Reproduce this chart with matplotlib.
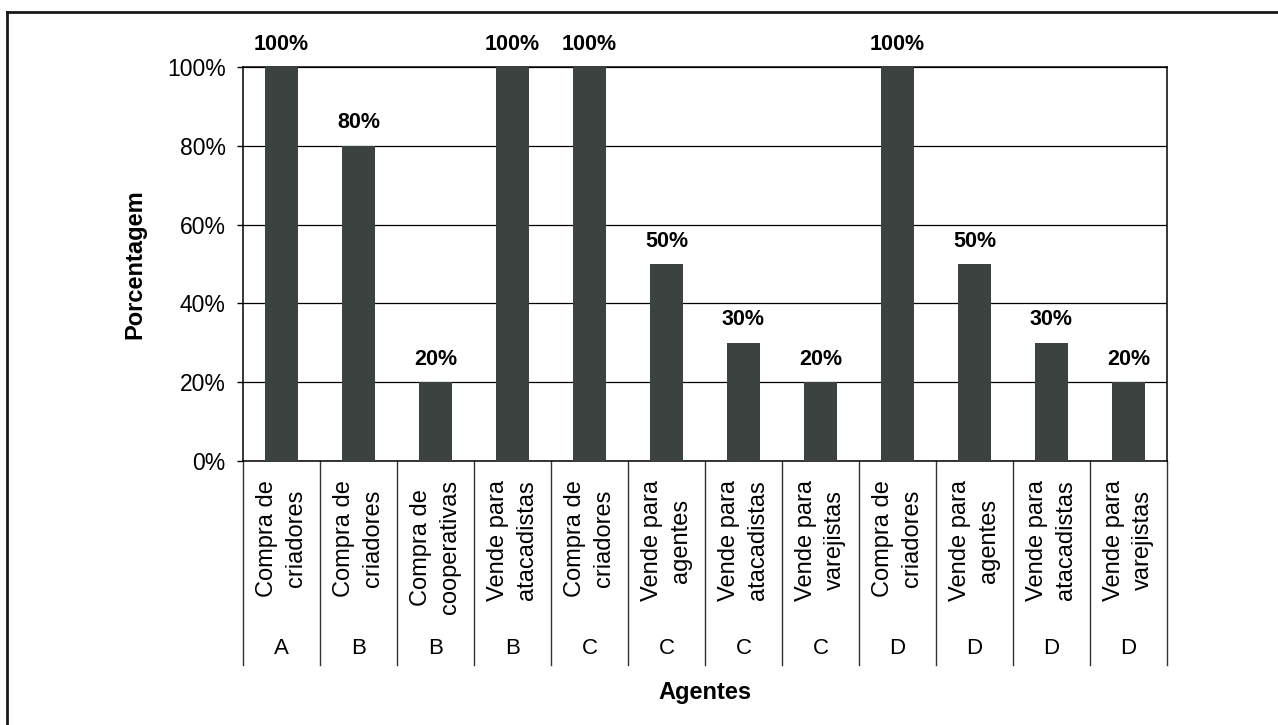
import matplotlib
matplotlib.use("Agg")
import matplotlib.pyplot as plt
from matplotlib.lines import Line2D
from matplotlib.ticker import FuncFormatter

plt.rcParams['font.family'] = ['Liberation Sans', 'DejaVu Sans']

categories = ["Compra de\ncriadores", "Compra de\ncriadores", "Compra de\ncooperativas",
              "Vende para\natacadistas", "Compra de\ncriadores", "Vende para\nagentes",
              "Vende para\natacadistas", "Vende para\nvarejistas", "Compra de\ncriadores",
              "Vende para\nagentes", "Vende para\natacadistas", "Vende para\nvarejistas"]
agents = ["A", "B", "B", "B", "C", "C", "C", "C", "D", "D", "D", "D"]
values = [100, 80, 20, 100, 100, 50, 30, 20, 100, 50, 30, 20]
yticks = [0, 20, 40, 60, 80, 100]

W, H = 1278, 725
fig = plt.figure(figsize=(W / 100, H / 100), dpi=100)
ax_l, ax_r, ax_t, ax_b = 243, 1167, 67, 461
ax = fig.add_axes([ax_l / W, 1 - ax_b / H, (ax_r - ax_l) / W, (ax_b - ax_t) / H])

bar_color = '#3c4240'
x = list(range(len(values)))
ax.bar(x, values, width=0.43, color=bar_color, zorder=3)
ax.set_xlim(-0.5, len(values) - 0.5)
ax.set_ylim(0, 100)
ax.set_yticks(yticks)
ax.yaxis.set_major_formatter(FuncFormatter(lambda v, p: f"{int(v)}%"))
ax.tick_params(axis='y', direction='out', length=4.5, width=1, pad=8, labelsize=16.5, color='black')
ax.set_xticks([])
ax.yaxis.grid(True, color='black', lw=0.9)
ax.set_axisbelow(True)
for s in ax.spines.values():
    s.set_color('black')
    s.set_linewidth(1.1)

for xi, v in zip(x, values):
    ax.annotate(f"{v}%", (xi, v), xytext=(0, 16.5), textcoords='offset points',
                ha='center', va='center', fontsize=15.5, fontweight='bold', annotation_clip=False)

trans = ax.get_xaxis_transform()
h_ax = ax_b - ax_t
for xi, (cat, ag) in enumerate(zip(categories, agents)):
    ax.text(xi, (ax_b - 480) / h_ax, cat, transform=trans,
            rotation=90, ha='center', va='top', multialignment='center',
            fontsize=17, linespacing=1.45)
    ax.text(xi, (ax_b - 648) / h_ax, ag, transform=trans, ha='center', va='center', fontsize=16)
for b in range(len(values) + 1):
    ax.add_line(Line2D([b - 0.5, b - 0.5], [0, (ax_b - 665) / h_ax], transform=trans,
                       color='#333333', lw=1.0, clip_on=False))

fig.text(705 / W, 1 - 692 / H, "Agentes", ha='center', va='center', fontsize=17, fontweight='bold')
fig.text(135 / W, 1 - 264 / H, "Porcentagem", ha='center', va='center', rotation=90,
         fontsize=17, fontweight='bold')

# scanned page frame (left and top)
fig.add_artist(Line2D([7 / W, 7 / W], [0, 1 - 12 / H], transform=fig.transFigure, color='#1a1a1a', lw=2))
fig.add_artist(Line2D([7 / W, 1], [1 - 12 / H, 1 - 12 / H], transform=fig.transFigure, color='#1a1a1a', lw=2))

fig.savefig("out.png", dpi=100)
